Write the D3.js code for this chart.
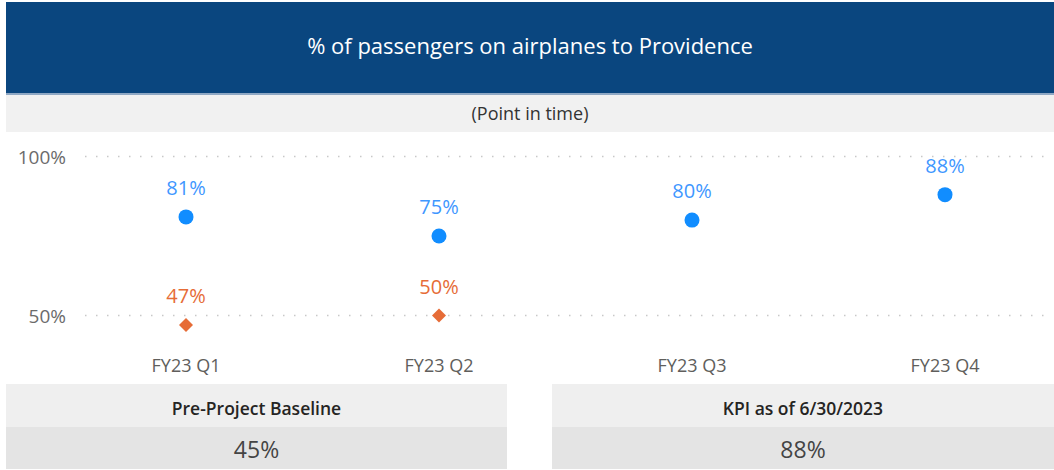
<!DOCTYPE html>
<html lang="en">
  <head>
    <meta charset="UTF-8">
    <title>% of passengers on airplanes to Providence</title>
    <style>
      body { margin: 0; background: #fff; }
      svg { display: block; font-family: "Open Sans", "Noto Sans", sans-serif; }
      .grid line { stroke: #c8c8c8; stroke-width: 1.5px; stroke-dasharray: 1.5, 9.5; }
      .ylab { fill: #6b6b6b; font-size: 19px; }
      .xlab { fill: #605e5c; font-size: 18px; }
    </style>
  </head>
  <body>
    <script src="https://cdnjs.cloudflare.com/ajax/libs/d3/7.8.5/d3.min.js"></script>
    <script>
      // chart data
      const quarters = ["FY23 Q1", "FY23 Q2", "FY23 Q3", "FY23 Q4"];
      const actual = [81, 75, 80, 88];        // blue dots
      const baseline = [47, 50, null, null];  // orange diamonds
      const yTicks = [50, 100];
      const cards = [
        { title: "Pre-Project Baseline", value: "45%" },
        { title: "KPI as of 6/30/2023", value: "88%" }
      ];

      const W = 1054, H = 470;
      const svg = d3.select("body").append("svg")
        .attr("width", W)
        .attr("height", H);

      // header bar
      svg.append("rect")
        .attr("x", 6).attr("y", 2).attr("width", W - 6).attr("height", 91)
        .attr("fill", "#0a467f");
      svg.append("rect")
        .attr("x", 6).attr("y", 93).attr("width", W - 6).attr("height", 2)
        .attr("fill", "#8fa8c4");
      svg.append("text")
        .attr("x", 530).attr("y", 45)
        .attr("text-anchor", "middle").attr("dominant-baseline", "central")
        .attr("fill", "#fff").style("font-size", "22px")
        .text("% of passengers on airplanes to Providence");

      // subtitle band
      svg.append("rect")
        .attr("x", 6).attr("y", 95).attr("width", W - 6).attr("height", 37)
        .attr("fill", "#f1f1f1");
      svg.append("text")
        .attr("x", 530).attr("y", 113)
        .attr("text-anchor", "middle").attr("dominant-baseline", "central")
        .attr("fill", "#333").style("font-size", "18px")
        .text("(Point in time)");

      // scales
      const x = d3.scalePoint().domain(quarters).range([186, 945]);
      const y = d3.scaleLinear().domain([50, 100]).range([315.5, 156.5]);

      // gridlines
      svg.append("g").attr("class", "grid")
        .selectAll("line").data(yTicks).join("line")
        .attr("x1", 85).attr("x2", 1052)
        .attr("y1", d => y(d)).attr("y2", d => y(d));

      // y labels
      svg.append("g")
        .selectAll("text").data(yTicks).join("text")
        .attr("class", "ylab")
        .attr("x", 66).attr("y", d => y(d))
        .attr("text-anchor", "end").attr("dominant-baseline", "central")
        .text(d => d + "%");

      // x labels
      svg.append("g")
        .selectAll("text").data(quarters).join("text")
        .attr("class", "xlab")
        .attr("x", d => x(d)).attr("y", 365)
        .attr("text-anchor", "middle").attr("dominant-baseline", "central")
        .text(d => d);

      // baseline series (diamonds)
      const baseData = quarters.map((q, i) => ({ q, v: baseline[i] })).filter(d => d.v != null);
      const diamond = "M0,-7L7,0L0,7L-7,0Z";
      svg.append("g")
        .selectAll("path").data(baseData).join("path")
        .attr("d", diamond)
        .attr("transform", d => `translate(${x(d.q)},${y(d.v)})`)
        .attr("fill", "#e66c37");
      svg.append("g")
        .selectAll("text").data(baseData).join("text")
        .attr("x", d => x(d.q)).attr("y", d => y(d.v) - 22)
        .attr("text-anchor", "middle")
        .attr("fill", "#e66c37").style("font-size", "20px")
        .text(d => d.v + "%");

      // actual series (dots)
      const actData = quarters.map((q, i) => ({ q, v: actual[i] }));
      svg.append("g")
        .selectAll("circle").data(actData).join("circle")
        .attr("cx", d => x(d.q)).attr("cy", d => y(d.v))
        .attr("r", 7.5)
        .attr("fill", "#118dff");
      svg.append("g")
        .selectAll("text").data(actData).join("text")
        .attr("x", d => x(d.q)).attr("y", d => y(d.v) - 22)
        .attr("text-anchor", "middle")
        .attr("fill", "#3f97ff").style("font-size", "20px")
        .text(d => d.v + "%");

      // KPI cards
      const cardX = [6, 552], cardW = [501, 502];
      const card = svg.append("g")
        .selectAll("g").data(cards).join("g")
        .attr("transform", (d, i) => `translate(${cardX[i]},384)`);
      card.append("rect")
        .attr("width", (d, i) => cardW[i]).attr("height", 43)
        .attr("fill", "#efefef");
      card.append("rect")
        .attr("y", 43)
        .attr("width", (d, i) => cardW[i]).attr("height", 42)
        .attr("fill", "#e4e4e4");
      card.append("text")
        .attr("x", (d, i) => cardW[i] / 2).attr("y", 24)
        .attr("text-anchor", "middle").attr("dominant-baseline", "central")
        .attr("fill", "#252423").style("font-size", "17.5px").style("font-weight", "600")
        .text(d => d.title);
      card.append("text")
        .attr("x", (d, i) => cardW[i] / 2).attr("y", 65)
        .attr("text-anchor", "middle").attr("dominant-baseline", "central")
        .attr("fill", "#444").style("font-size", "23px")
        .text(d => d.value);
    </script>
  </body>
</html>
